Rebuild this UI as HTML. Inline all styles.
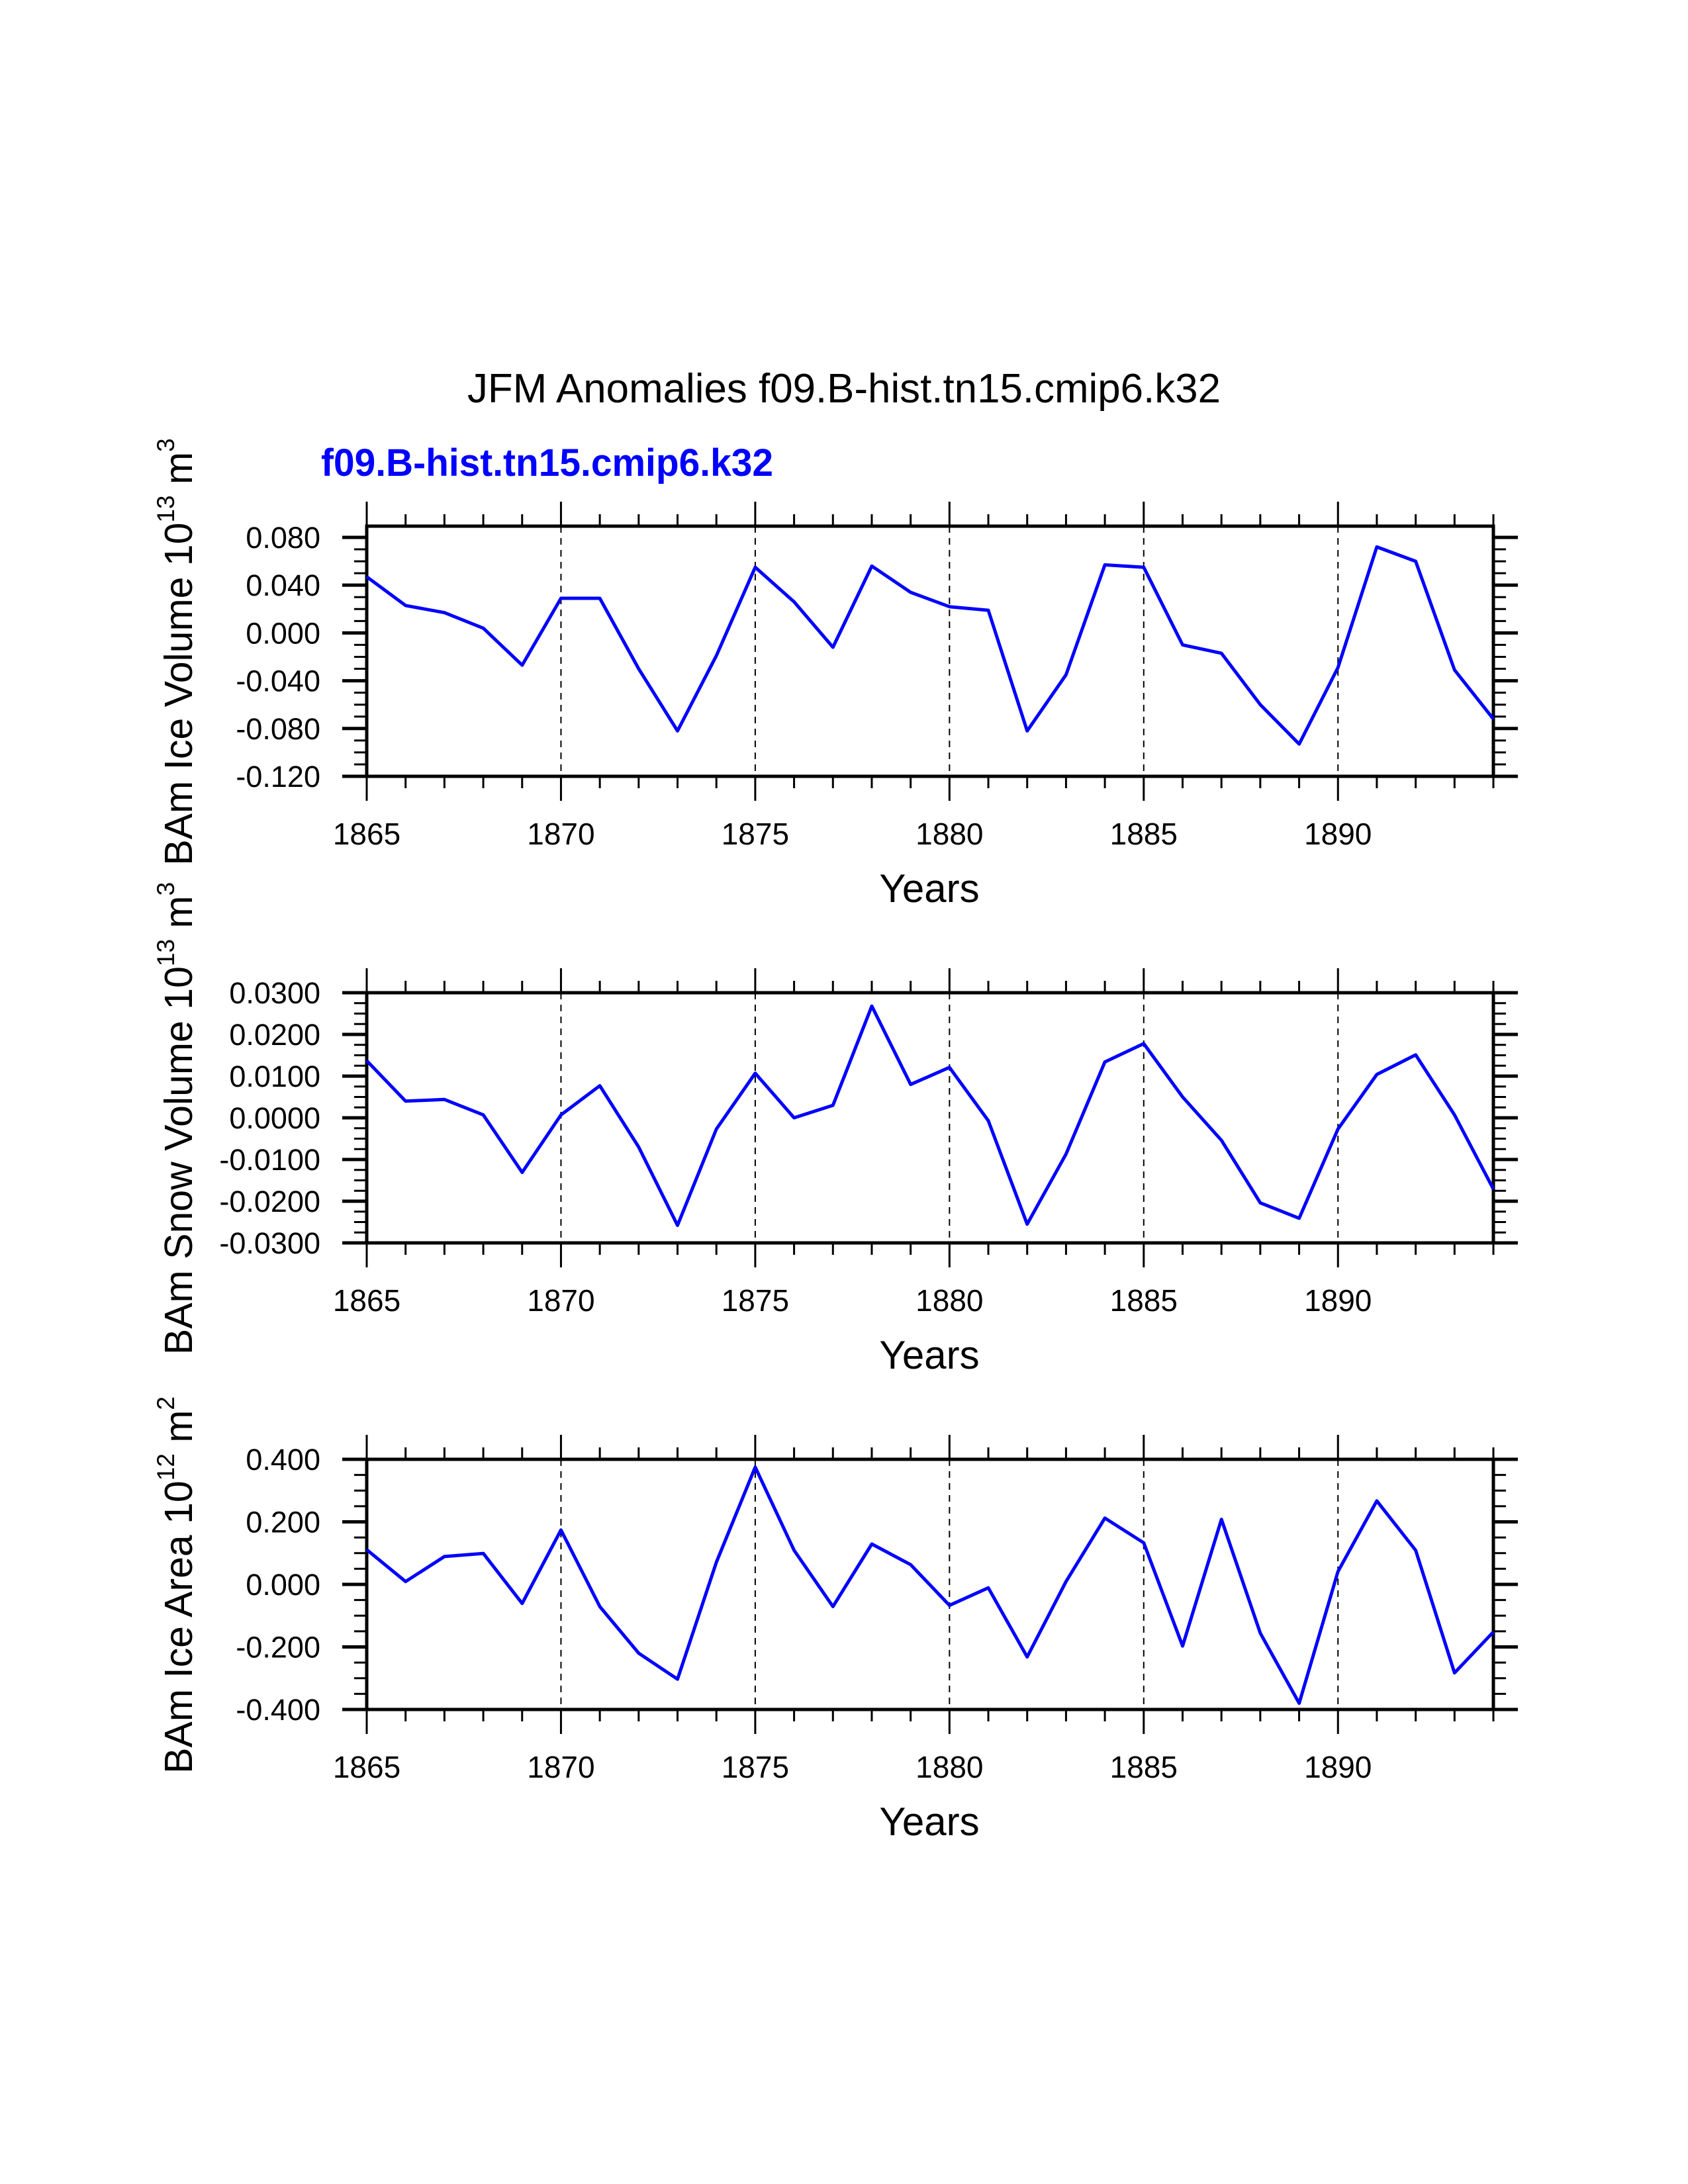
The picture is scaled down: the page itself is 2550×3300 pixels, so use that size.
<!DOCTYPE html>
<html><head><meta charset="utf-8"><style>html,body{margin:0;padding:0;background:#fff}svg{display:block}text{font-family:"Liberation Sans",sans-serif}</style></head>
<body>
<svg id="chart" width="2550" height="3300" viewBox="0 0 2550 3300" xmlns="http://www.w3.org/2000/svg">
<text x="1275" y="608" font-size="62" text-anchor="middle" textLength="1138" lengthAdjust="spacingAndGlyphs">JFM Anomalies f09.B-hist.tn15.cmip6.k32</text>
<text x="485" y="719" font-size="58" font-weight="bold" fill="#0000ff" textLength="683" lengthAdjust="spacingAndGlyphs">f09.B-hist.tn15.cmip6.k32</text>
<g id="panels"></g>
</svg>
<script>
const years = [1865,1866,1867,1868,1869,1870,1871,1872,1873,1874,1875,1876,1877,1878,1879,1880,1881,1882,1883,1884,1885,1886,1887,1888,1889,1890,1891,1892,1893,1894];
const xTickYears = [1865,1870,1875,1880,1885,1890];
const iceVolume = [0.047,0.023,0.017,0.004,-0.027,0.029,0.029,-0.030,-0.082,-0.019,0.055,0.026,-0.012,0.056,0.034,0.022,0.019,-0.082,-0.035,0.057,0.055,-0.010,-0.017,-0.060,-0.093,-0.029,0.072,0.060,-0.031,-0.072];
const snowVolume = [0.0137,0.0040,0.0044,0.0007,-0.0131,0.0007,0.0077,-0.0070,-0.0258,-0.0027,0.0107,0.0000,0.0030,0.0268,0.0080,0.0121,-0.0007,-0.0255,-0.0087,0.0134,0.0178,0.0050,-0.0054,-0.0204,-0.0241,-0.0027,0.0104,0.0151,0.0007,-0.0171];
const iceArea = [0.111,0.009,0.089,0.099,-0.061,0.174,-0.071,-0.220,-0.303,0.071,0.375,0.109,-0.071,0.129,0.063,-0.067,-0.011,-0.232,0.009,0.212,0.133,-0.197,0.208,-0.156,-0.380,0.041,0.267,0.109,-0.283,-0.152];
const iceVolTicks = [0.080,0.040,0.000,-0.040,-0.080,-0.120];
const iceVolTickLabels = ["0.080","0.040","0.000","-0.040","-0.080","-0.120"];
const snowTicks = [0.03,0.02,0.01,0,-0.01,-0.02,-0.03];
const snowTickLabels = ["0.0300","0.0200","0.0100","0.0000","-0.0100","-0.0200","-0.0300"];
const areaTicks = [0.4,0.2,0,-0.2,-0.4];
const areaTickLabels = ["0.400","0.200","0.000","-0.200","-0.400"];

const NS = "http://www.w3.org/2000/svg";
const root = document.getElementById('panels');
const L = 554, R = 2256, H = 378;
function mk(tag, attrs, parent){const e=document.createElementNS(NS,tag);for(const k in attrs)e.setAttribute(k,attrs[k]);parent.appendChild(e);return e;}
const xs = y => L + (y - 1865) / (1894 - 1865) * (R - L);

const panels = [
 {key:'ice-volume', top:795, ymin:-0.12, ymax:0.0894, data:iceVolume, ticks:iceVolTicks, labels:iceVolTickLabels, minor:0.01, title:'BAm Ice Volume 10', sup1:'13', unit:' m', sup2:'3'},
 {key:'snow-volume', top:1500, ymin:-0.03, ymax:0.03, data:snowVolume, ticks:snowTicks, labels:snowTickLabels, minor:0.0025, title:'BAm Snow Volume 10', sup1:'13', unit:' m', sup2:'3'},
 {key:'ice-area', top:2205, ymin:-0.4, ymax:0.4, data:iceArea, ticks:areaTicks, labels:areaTickLabels, minor:0.05, title:'BAm Ice Area 10', sup1:'12', unit:' m', sup2:'2'}
];

panels.forEach(p => {
  const g = mk('g', {}, root);
  
  
  const T = p.top, B = p.top + H;
  const ys = v => B - (v - p.ymin) / (p.ymax - p.ymin) * H;
  xTickYears.slice(1).forEach(yr => {
    const ln = mk('line', {x1:xs(yr), x2:xs(yr), y1:T, y2:B, stroke:'#000', 'stroke-width':2, 'stroke-dasharray':'10,8'}, g);
    
    
  });
  years.forEach(yr => {
    const major = xTickYears.includes(yr);
    const len = major ? 37 : 18;
    mk('line', {x1:xs(yr), x2:xs(yr), y1:T, y2:T-len, stroke:'#000', 'stroke-width':3}, g);
    mk('line', {x1:xs(yr), x2:xs(yr), y1:B, y2:B+len, stroke:'#000', 'stroke-width':3}, g);
  });
  xTickYears.forEach(yr => {
    const t = mk('text', {x:xs(yr), y:B+103, 'font-size':46, 'text-anchor':'middle'}, g);
    t.textContent = yr;
    
    
  });
  const nMinor = Math.round((p.ymax - p.ymin) / p.minor) + 1;
  for (let i = 0; i <= nMinor; i++) {
    const v = p.ymin + i * p.minor;
    if (v > p.ymax + 1e-9) break;
    mk('line', {x1:L, x2:L-19, y1:ys(v), y2:ys(v), stroke:'#000', 'stroke-width':3}, g);
    mk('line', {x1:R, x2:R+19, y1:ys(v), y2:ys(v), stroke:'#000', 'stroke-width':3}, g);
  }
  p.ticks.forEach((v, i) => {
    mk('line', {x1:L, x2:L-37, y1:ys(v), y2:ys(v), stroke:'#000', 'stroke-width':5}, g);
    mk('line', {x1:R, x2:R+37, y1:ys(v), y2:ys(v), stroke:'#000', 'stroke-width':5}, g);
    const t = mk('text', {x:484, y:ys(v)+16, 'font-size':45, 'text-anchor':'end'}, g);
    t.textContent = p.labels[i];
    
    
  });
  const fr = mk('rect', {x:L, y:T, width:R-L, height:H, fill:'none', stroke:'#000', 'stroke-width':5}, g);
  
  
  const pts = p.data.map((v, i) => xs(years[i]).toFixed(1) + ',' + ys(v).toFixed(1)).join(' ');
  const pl = mk('polyline', {points:pts, fill:'none', stroke:'#0000ff', 'stroke-width':5, 'stroke-linejoin':'round'}, g);
  
  
  const xt = mk('text', {x:1404, y:T+568, 'font-size':60, 'text-anchor':'middle'}, g);
  xt.textContent = 'Years';
  
  
  const cy = T + 190;
  const yt = mk('text', {x:0, y:0, 'font-size':59, 'text-anchor':'middle', transform:'translate(290,' + cy + ') rotate(-90)'}, g);
  
  
  const a = mk('tspan', {}, yt); a.textContent = p.title;
  const b = mk('tspan', {dy:-27, 'font-size':37}, yt); b.textContent = p.sup1;
  const c = mk('tspan', {dy:27}, yt); c.textContent = p.unit;
  const d = mk('tspan', {dy:-27, 'font-size':37}, yt); d.textContent = p.sup2;
});
</script>
</body></html>
